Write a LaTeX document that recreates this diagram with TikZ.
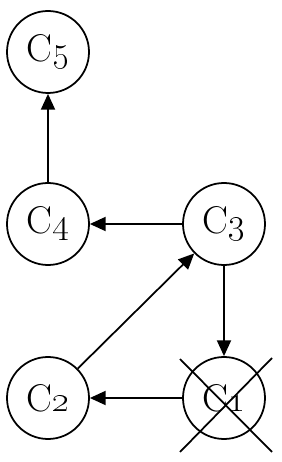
\documentclass[tikz,border=0pt]{standalone}
\usetikzlibrary{arrows.meta}

\tikzset{
  knoten/.style={
    draw, circle, line width=1pt, minimum size=1.64cm, inner sep=0pt,
    font=\fontsize{22}{26}\selectfont
  },
  pfeil/.style={-{Triangle[length=9pt, width=8pt]}, line width=1pt},
  kreuz/.style={line width=1pt}
}

\begin{document}
\begin{tikzpicture}
\useasboundingbox (0,0) rectangle (5.62,9.24);

\node[knoten] (c5) at (0.96,8.2) {C\oldstylenums{5}};
\node[knoten] (c4) at (0.96,4.76) {C\oldstylenums{4}};
\node[knoten] (c3) at (4.48,4.76) {C\oldstylenums{3}};
\node[knoten] (c2) at (0.96,1.28) {C\oldstylenums{2}};
\node[knoten] (c1) at (4.48,1.28) {C\oldstylenums{1}};

\draw[pfeil] (c4) -- (c5);
\draw[pfeil] (c3) -- (c4);
\draw[pfeil] (c2) -- (c3);
\draw[pfeil] (c3) -- (c1);
\draw[pfeil] (c1) -- (c2);

% durchgestrichen
\draw[kreuz] ([shift={(-0.88,0.78)}]c1.center) -- ([shift={(0.96,-1.08)}]c1.center);
\draw[kreuz] ([shift={(0.96,0.8)}]c1.center) -- ([shift={(-0.88,-1.08)}]c1.center);

\end{tikzpicture}
\end{document}
